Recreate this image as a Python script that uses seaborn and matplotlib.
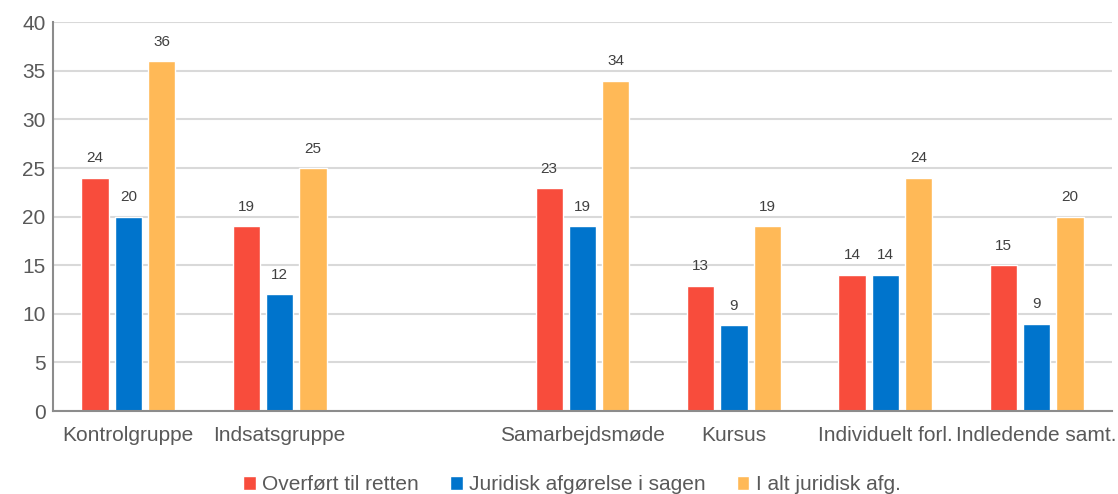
import pandas as pd
import matplotlib.pyplot as plt
import seaborn as sns
import numpy as np

# categories (one blank slot between the two groups of bars)
categories = ['Kontrolgruppe', 'Indsatsgruppe', ' ', 'Samarbejdsmøde', 'Kursus',
              'Individuelt forl.', 'Indledende samt.']
series = ['Overført til retten', 'Juridisk afgørelse i sagen', 'I alt juridisk afg.']

overfoert = [24, 19, np.nan, 22.9, 12.9, 14, 15]
juridisk = [20, 12, np.nan, 19, 8.8, 14, 9]
i_alt = [36, 25, np.nan, 34, 19, 24, 20]

colors = ['#F84C3C', '#0074CC', '#FFB957']

df = pd.DataFrame({
    'kategori': categories * 3,
    'serie': [s for s in series for _ in categories],
    'antal': overfoert + juridisk + i_alt,
})
df['kategori'] = pd.Categorical(df['kategori'], categories=categories, ordered=True)

sns.set_style('white')
plt.rcParams['font.family'] = ['Liberation Sans', 'DejaVu Sans']

fig = plt.figure(figsize=(11.18, 4.94), dpi=100)
ax = fig.add_axes([0.047, 0.168, 0.948, 0.787])

sns.barplot(data=df, x='kategori', y='antal', hue='serie', order=categories,
            hue_order=series, palette=colors, width=0.66, gap=0.18,
            saturation=1, ax=ax, errorbar=None)

for cont in ax.containers:
    ax.bar_label(cont, fmt='%.0f', padding=9, fontsize=11, color='#404040')

ax.set_ylim(0, 40)
ax.set_yticks(range(0, 41, 5))
ax.set_xlim(-0.5, 6.5)
ax.set_xlabel('')
ax.set_ylabel('')
ax.yaxis.grid(True, color='#d9d9d9', linewidth=1.5)
ax.set_axisbelow(True)
ax.tick_params(axis='both', labelsize=15, colors='#595959', length=0)
ax.tick_params(axis='x', pad=11)
ax.tick_params(axis='y', pad=5)
for side in ['top', 'right']:
    ax.spines[side].set_visible(False)
for side in ['left', 'bottom']:
    ax.spines[side].set_color('#8c8c8c')
    ax.spines[side].set_linewidth(1.5)

handles, labels = ax.get_legend_handles_labels()
ax.legend(handles, labels, loc='center', bbox_to_anchor=(0.49, -0.19),
          ncol=3, frameon=False, fontsize=15, handlelength=0.6, handleheight=0.6,
          handletextpad=0.3, columnspacing=1.5, labelcolor='#595959',
          borderpad=0)

fig.savefig('out.png', dpi=100)
